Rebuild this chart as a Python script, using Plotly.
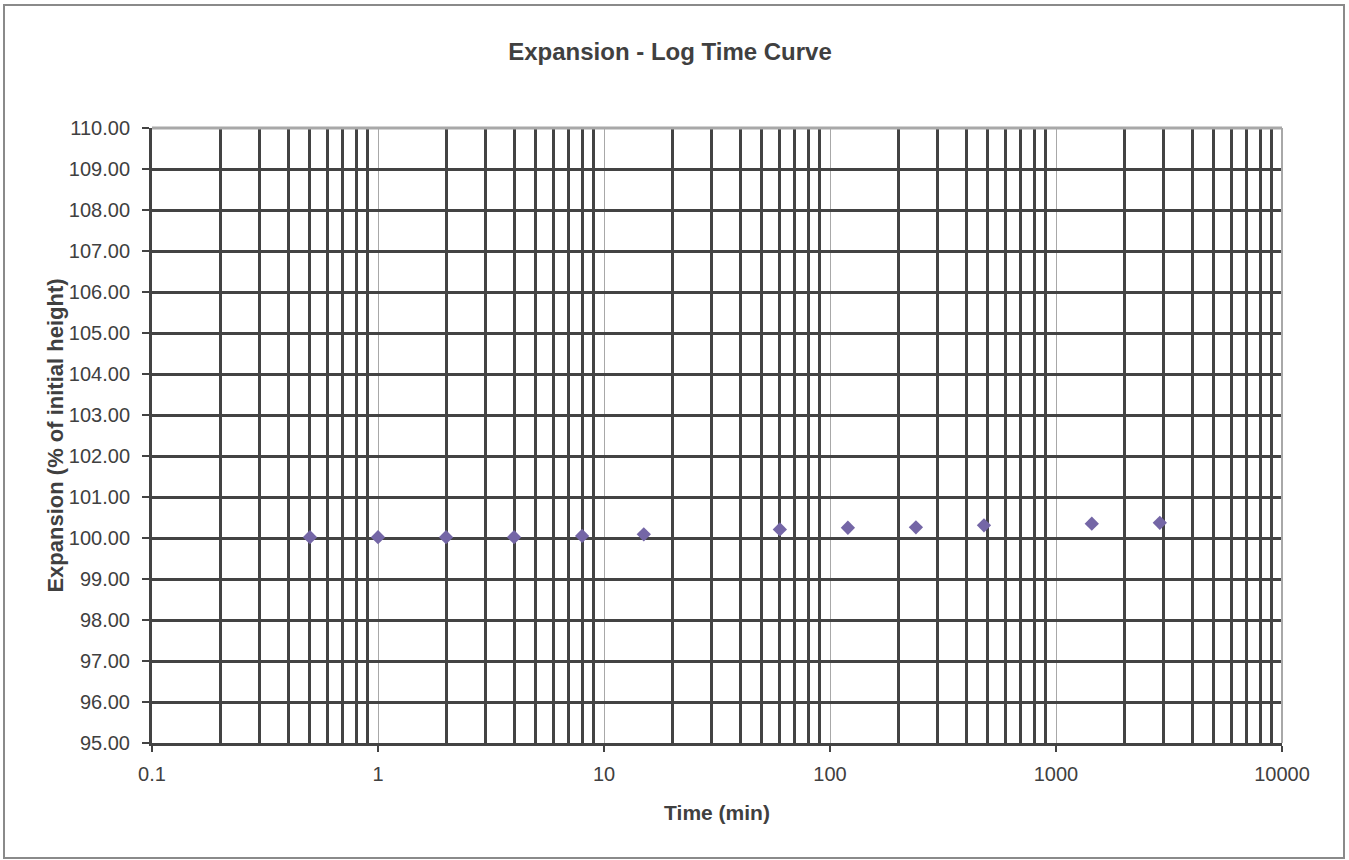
import plotly.graph_objects as go

# Data
time_min = [0.5, 1, 2, 4, 8, 15, 60, 120, 240, 480, 1440, 2880]
expansion = [100.02, 100.02, 100.02, 100.02, 100.05, 100.09, 100.21, 100.25, 100.26, 100.31, 100.35, 100.37]

y_ticks = list(range(95, 111))
y_labels = [f"{v:.2f}" for v in y_ticks]
x_major = [0.1, 1, 10, 100, 1000, 10000]
x_labels = ["0.1", "1", "10", "100", "1000", "10000"]
x_minor = [m * d for d in [0.1, 1, 10, 100, 1000] for m in range(2, 10)]

dark = "#434343"
light = "#a8a8a8"
txt = "#404040"
font = "Liberation Sans, Arial, sans-serif"

fig = go.Figure()
fig.add_trace(go.Scatter(
    x=time_min, y=expansion, mode="markers",
    marker=dict(symbol="diamond", size=11, color="#7466A6",
                line=dict(width=0)),
    showlegend=False,
))

fig.update_layout(
    width=1349, height=860,
    margin=dict(l=152, r=67, t=128, b=117),
    paper_bgcolor="white", plot_bgcolor="white",
    title=dict(text="<b>Expansion - Log Time Curve</b>", x=670 / 1349, xanchor="center",
               y=1 - 52 / 860, yanchor="middle", yref="container",
               font=dict(family=font, size=24, color=txt)),
    font=dict(family=font, color=txt),
)

fig.update_xaxes(
    type="log", range=[-1, 4],
    tickmode="array", tickvals=x_major, ticktext=x_labels,
    showgrid=True, gridcolor=light, gridwidth=1,
    minor=dict(tickmode="array", tickvals=x_minor, showgrid=True,
               gridcolor=dark, gridwidth=3, ticks=""),
    showline=True, linecolor=dark, linewidth=3, mirror=False,
    ticks="outside", ticklen=6, tickwidth=2, tickcolor=dark,
    ticklabelstandoff=5,
    tickfont=dict(family=font, size=20, color=txt),
    zeroline=False,
    title=dict(text="<b>Time (min)</b>", font=dict(family=font, size=21, color=txt), standoff=22),
)

fig.update_yaxes(
    range=[95, 110],
    tickmode="array", tickvals=y_ticks, ticktext=y_labels,
    showgrid=True, gridcolor=dark, gridwidth=3,
    showline=True, linecolor=dark, linewidth=3, mirror=False,
    ticks="outside", ticklen=7, tickwidth=2, tickcolor=dark,
    ticklabelstandoff=8,
    tickfont=dict(family=font, size=20, color=txt),
    zeroline=False,
    title=dict(text="<b>Expansion (% of initial height)</b>", font=dict(family=font, size=22, color=txt), standoff=0),
)

# light top and right border of the plot area
fig.add_shape(type="line", xref="x domain", yref="y domain", x0=0, x1=1, y0=1, y1=1,
              line=dict(color=light, width=3), layer="above")
fig.add_shape(type="line", xref="x domain", yref="y domain", x0=1, x1=1, y0=0, y1=1,
              line=dict(color=light, width=2), layer="above")
# outer chart border
fig.add_shape(type="rect", xref="paper", yref="paper",
              x0=-148 / 1130, x1=(1344 - 152) / 1130,
              y0=(743 - 858) / 615, y1=(743 - 5) / 615,
              line=dict(color="#8a8a8a", width=2), layer="below")

fig.write_html("out.html")
